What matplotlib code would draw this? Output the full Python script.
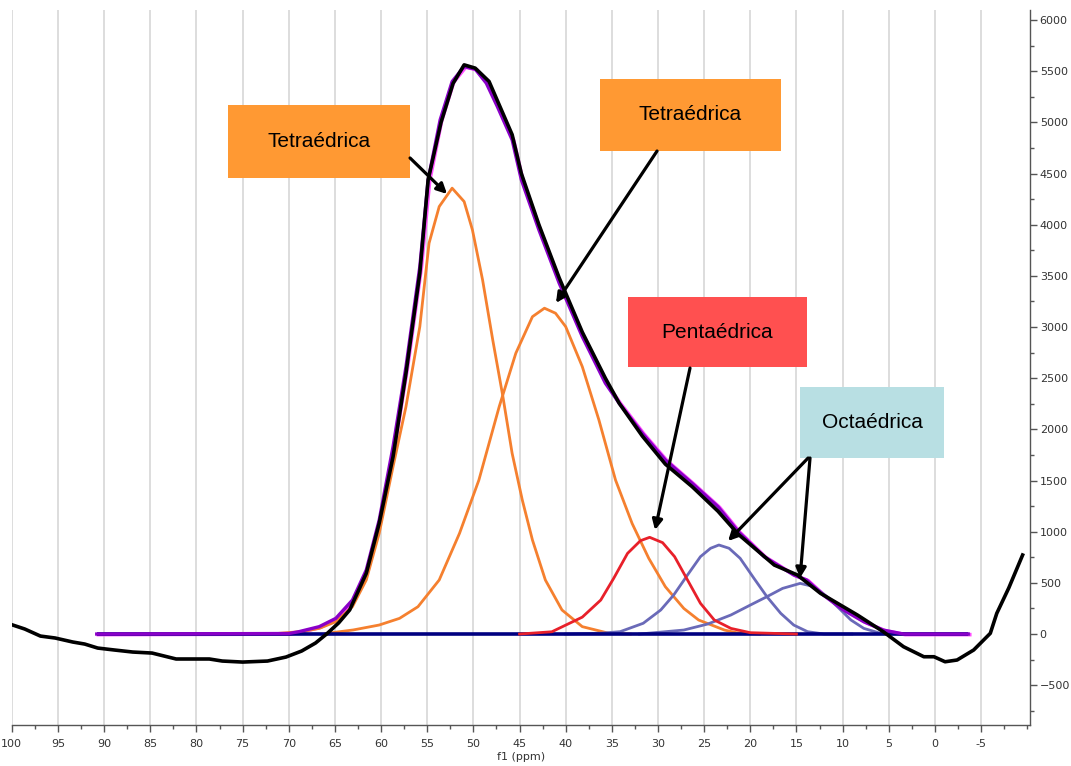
import matplotlib
matplotlib.use("Agg")
import matplotlib.pyplot as plt
import matplotlib.transforms as mtransforms
from matplotlib.patches import Rectangle
from matplotlib.ticker import MultipleLocator

# ---------------- data ----------------
# experimental spectrum (black)
ppm_exp = [99.9, 98.6, 96.9, 95.3, 93.4, 92.1, 90.7, 88.9, 86.9, 84.8, 83.5, 82.2, 78.6, 77.2,
           75.0, 72.3, 70.3, 68.6, 67.1, 65.9, 64.6, 63.4, 61.6, 60.2, 58.7, 57.3, 55.8, 54.9,
           53.5, 52.2, 51.0, 49.8, 48.3, 45.8, 44.8, 42.9, 40.7, 38.2, 35.7, 34.2, 31.7, 29.2,
           26.3, 23.5, 21.3, 17.4, 14.9, 12.4, 8.4, 5.6, 3.4, 1.2, 0.1, -1.1, -2.4, -4.2,
           -6.0, -6.7, -8.0, -9.5]
int_exp = [88, 49, -20, -39, -78, -98, -137, -156, -176, -186, -215, -244, -244, -264,
           -274, -264, -225, -166, -88, 0, 108, 235, 593, 1082, 1733, 2548, 3526, 4438,
           5000, 5380, 5562, 5530, 5400, 4880, 4500, 4000, 3480, 2950, 2500, 2255, 1935, 1660,
           1440, 1200, 975, 674, 577, 398, 186, 23, -124, -222, -222, -271, -254, -156,
           7, 202, 450, 772]

# fitted sum (violet / magenta)
ppm_sum = [90.8, 70.0, 68.9, 66.7, 64.9, 63.1, 61.6, 60.2, 58.7, 57.3, 55.8, 54.9, 53.6, 52.3,
           51.0, 49.8, 48.6, 47.4, 45.8, 44.8, 42.9, 40.7, 38.2, 35.7, 34.2, 31.7, 29.2, 26.3,
           23.5, 21.3, 18.5, 15.3, 13.9, 12.1, 9.9, 7.7, 5.6, 3.4, -3.6]
int_sum = [0, 5, 23, 72, 153, 332, 626, 1114, 1831, 2613, 3590, 4438, 5024, 5399,
           5545, 5520, 5383, 5154, 4829, 4438, 3949, 3428, 2906, 2451, 2255, 1962, 1700, 1473,
           1244, 1000, 756, 577, 528, 381, 235, 120, 39, 0, 0]

# baseline
ppm_base = [90.8, -3.6]
int_base = [0, 0]

# tetrahedral site 1 (orange)
ppm_t1 = [71.3, 68.5, 66.7, 64.9, 63.1, 61.6, 60.2, 58.7, 57.3, 55.8, 54.8, 53.7, 52.3, 51.0,
          50.1, 49.0, 47.9, 46.8, 45.8, 44.7, 43.6, 42.2, 40.4, 38.2, 35.3, 33.0]
int_t1 = [5, 25, 55, 120, 267, 528, 984, 1636, 2222, 3004, 3819, 4177, 4357, 4226,
          3949, 3460, 2874, 2320, 1766, 1310, 919, 528, 235, 72, 7, 0]

# tetrahedral site 2 (orange)
ppm_t2 = [66.0, 63.0, 60.2, 58.0, 56.0, 53.7, 51.5, 49.4, 47.2, 45.4, 43.6, 42.3, 41.1, 40.0,
          38.2, 36.4, 34.6, 32.8, 31.0, 29.2, 27.2, 25.6, 22.8, 21.5, 19.0]
int_t2 = [5, 40, 88, 153, 267, 528, 984, 1505, 2222, 2744, 3101, 3184, 3135, 3004,
          2613, 2092, 1505, 1080, 740, 462, 250, 137, 39, 13, 0]

# pentahedral site (red)
ppm_p = [45.0, 41.5, 38.2, 36.2, 34.8, 33.3, 31.9, 30.9, 29.5, 28.2, 26.8, 25.4, 23.9, 22.1,
         20.0, 15.0]
int_p = [0, 22, 165, 332, 544, 788, 912, 945, 893, 756, 528, 300, 137, 55, 13, 0]

# octahedral site 1 (slate blue)
ppm_o1 = [40.0, 36.2, 34.1, 31.6, 29.7, 28.3, 26.8, 25.4, 24.3, 23.4, 22.3, 21.1, 19.6, 18.2,
          16.7, 15.3, 13.8, 12.0, 9.0]
int_o1 = [0, 8, 23, 105, 235, 381, 577, 756, 838, 870, 838, 740, 544, 365,
          202, 88, 23, 0, 0]

# octahedral site 2 (slate blue)
ppm_o2 = [32.0, 27.2, 24.6, 22.1, 20.0, 18.2, 16.5, 14.6, 13.1, 11.7, 10.2, 9.1, 7.7, 5.9,
          4.0, -3.6]
int_o2 = [0, 39, 98, 186, 283, 365, 446, 495, 463, 365, 235, 137, 55, 7, 0, 0]

x_major = [100, 95, 90, 85, 80, 75, 70, 65, 60, 55, 50, 45, 40, 35, 30, 25, 20, 15, 10, 5, 0, -5]
x_labels = ["100", "95", "90", "85", "80", "75", "70", "65", "60", "55", "50", "45", "40", "35",
            "30", "25", "20", "15", "10", "5", "0", "-5"]
y_major = [-500, 0, 500, 1000, 1500, 2000, 2500, 3000, 3500, 4000, 4500, 5000, 5500, 6000]

labels = ["Tetraédrica", "Tetraédrica", "Pentaédrica", "Octaédrica"]

# ---------------- figure ----------------
W, H = 1071, 766
fig = plt.figure(figsize=(W / 100, H / 100), dpi=100)
fig.patch.set_facecolor("white")
ax_l, ax_r, ax_t, ax_b = 11.8, 1030, 10, 725
ax = fig.add_axes([ax_l / W, (H - ax_b) / H, (ax_r - ax_l) / W, (ax_b - ax_t) / H])
ax.set_xlim(100.0, -10.3)
ax.set_ylim(-889, 6098)

# grid
ax.set_xticks(x_major)
ax.set_xticklabels(x_labels)
ax.xaxis.set_minor_locator(MultipleLocator(2.5))
ax.grid(True, axis="x", which="major", color="#dddddd", lw=1.4, zorder=0)
ax.set_axisbelow(True)

# curves
mag_tr = mtransforms.offset_copy(ax.transData, fig=fig, x=1.6, y=-0.6, units="dots")
ax.plot(ppm_sum, int_sum, color="#ff4dff", lw=2.6, zorder=2.5, transform=mag_tr)
ax.plot(ppm_t1, int_t1, color="#f5802f", lw=2.0, zorder=3)
ax.plot(ppm_t2, int_t2, color="#f5802f", lw=2.0, zorder=3)
ax.plot(ppm_o1, int_o1, color="#6a6ab8", lw=2.0, zorder=3)
ax.plot(ppm_o2, int_o2, color="#6a6ab8", lw=2.0, zorder=3)
ax.plot(ppm_base, int_base, color="#000080", lw=2.6, zorder=3.2, solid_capstyle="butt")
ax.plot(ppm_p, int_p, color="#e8202a", lw=2.0, zorder=3.5)
ax.plot(ppm_sum, int_sum, color="#8a00c8", lw=2.4, zorder=4)
ax.plot(ppm_exp, int_exp, color="black", lw=2.6, zorder=5)

# axes styling
for s in ("top", "left"):
    ax.spines[s].set_visible(False)
for s in ("bottom", "right"):
    ax.spines[s].set_color("#555555")
    ax.spines[s].set_linewidth(1.0)
ax.yaxis.tick_right()
ax.set_yticks(y_major)
ax.yaxis.set_minor_locator(MultipleLocator(250))
ax.tick_params(axis="both", which="major", length=5, width=1, color="#555555",
               labelsize=8, labelcolor="#333333", direction="out")
ax.tick_params(axis="both", which="minor", length=3, width=1, color="#555555", direction="out")
ax.tick_params(axis="y", pad=2)
ax.tick_params(axis="x", pad=5)
ax.set_xlabel("f1 (ppm)", fontsize=8, color="#333333", labelpad=2)

# annotation boxes (axes fraction: x0, x1, y0, y1)
boxes = [(0.2123, 0.3911, 0.7650, 0.8671, "#ff9933"),
         (0.5777, 0.7554, 0.8028, 0.9035, "#ff9933"),
         (0.6052, 0.7810, 0.5007, 0.5986, "#ff5050"),
         (0.7741, 0.9155, 0.3734, 0.4727, "#b8dfe3")]
for (x0, x1, y0, y1, c), lab in zip(boxes, labels):
    ax.add_patch(Rectangle((x0, y0), x1 - x0, y1 - y0, transform=ax.transAxes,
                           facecolor=c, edgecolor="none", zorder=6))
    ax.text((x0 + x1) / 2, (y0 + y1) / 2, lab, transform=ax.transAxes, ha="center",
            va="center", fontsize=15, family=["Liberation Sans", "DejaVu Sans"],
            color="black", zorder=7)

# arrows (start, tip) in data coordinates
arrows = [((56.86, 4652), (52.85, 4300)),
          ((30.10, 4720), (41.05, 3235)),
          ((26.53, 2599), (30.32, 1016)),
          ((13.74, 1720), (22.41, 909)),
          ((13.53, 1720), (14.61, 547))]
for start, tip in arrows:
    ax.annotate("", xy=tip, xytext=start, xycoords="data", textcoords="data",
                arrowprops=dict(arrowstyle="-|>", color="black", lw=2.3,
                                mutation_scale=15, shrinkA=0, shrinkB=0),
                zorder=8)

fig.savefig("out.png", dpi=100)
